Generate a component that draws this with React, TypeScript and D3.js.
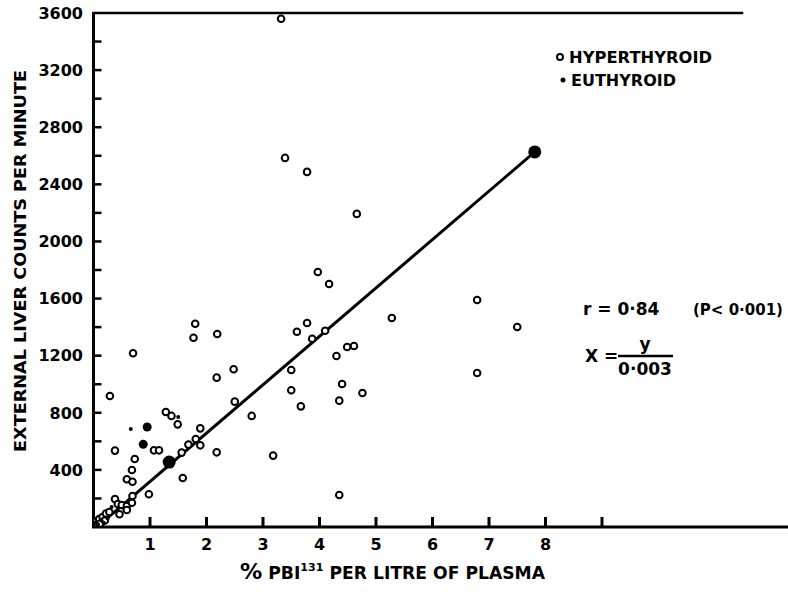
import React, { useEffect } from 'react';
import * as d3 from 'd3';

// hyperthyroid cases (open circles): [% PBI131 per litre, counts per minute]
const hyperthyroid: [number, number][] = [
  [3.32, 3560], [3.39, 2585], [3.78, 2487], [4.66, 2193], [3.97, 1786], [4.17, 1702],
  [6.79, 1590], [5.28, 1464], [7.5, 1401], [6.79, 1079],
  [3.78, 1429], [3.6, 1368], [3.87, 1319], [4.1, 1375], [4.49, 1261], [4.61, 1268],
  [4.3, 1198], [3.5, 1100], [3.5, 958], [4.4, 1002], [4.76, 939], [4.35, 885], [3.67, 845], [4.35, 224],
  [1.8, 1424], [1.77, 1326], [2.19, 1352], [2.48, 1105], [2.18, 1046], [2.5, 878], [2.8, 778],
  [1.28, 805], [1.38, 778], [1.49, 719], [1.89, 691], [1.81, 616], [1.68, 577], [1.89, 572],
  [2.18, 523], [3.18, 500], [1.07, 537], [1.16, 537], [1.56, 521], [1.58, 343],
  [0.29, 918], [0.7, 1217], [0.38, 535], [0.73, 476], [0.68, 399], [0.59, 334], [0.69, 317], [0.98, 229],
  [0.38, 196], [0.43, 161], [0.5, 154], [0.59, 147], [0.68, 170], [0.69, 217], [0.46, 89], [0.59, 119],
  [0.05, 40], [0.1, 55], [0.16, 70], [0.22, 95], [0.28, 105], [0.12, 25], [0.2, 45],
];

// heavy filled points
const filledPoints: [number, number][] = [[0.95, 700], [0.88, 579]];

// euthyroid cases (small dots)
const euthyroid: [number, number][] = [
  [0.66, 686], [1.5, 770], [0.03, 30], [0.08, 20], [0.14, 48], [0.18, 30], [0.25, 60], [0.32, 140],
];

// regression line end points
const regression: [number, number][] = [[0.15, 30], [7.81, 2627]];
const regressionDots: [number, number][] = [[1.34, 455], [7.81, 2627]];

const yLabels = [400, 800, 1200, 1600, 2000, 2400, 2800, 3200, 3600];
const yTicks = d3.range(200, 3600, 200);
const xTicks = [1, 2, 3, 4, 5, 6, 7, 8, 9];
const xLabels = [1, 2, 3, 4, 5, 6, 7, 8];

const FONT = '"DejaVu Sans", sans-serif';

export default function App() {
  useEffect(() => {
    document.body.style.margin = '0';
  }, []);

  const x = d3.scaleLinear().domain([0, 9]).range([93.5, 602]);
  const y = d3.scaleLinear().domain([0, 3600]).range([527, 13]);
  const line = d3.line<[number, number]>().x((d) => x(d[0])).y((d) => y(d[1]));

  return (
    <svg width={788} height={592} style={{ display: 'block', background: '#fff' }} fontFamily={FONT}>
      {/* frame */}
      <line x1={x(0)} x2={x(0)} y1={y(3600)} y2={y(0)} stroke="#000" strokeWidth={3} />
      <line x1={x(0) - 1.5} x2={x(12.4)} y1={y(0)} y2={y(0)} stroke="#000" strokeWidth={3} />
      <line x1={x(0) - 1.5} x2={x(11.5)} y1={y(3600)} y2={y(3600)} stroke="#000" strokeWidth={2.5} />

      {yTicks.map((t) => (
        <line key={t} x1={x(0)} x2={x(0) + 8} y1={y(t)} y2={y(t)} stroke="#000" strokeWidth={2.5} />
      ))}
      {yLabels.map((t) => (
        <text key={t} x={83} y={y(t)} dy="0.36em" textAnchor="end" fontSize={16} fontWeight="bold">
          {t}
        </text>
      ))}
      {xTicks.map((t) => (
        <line key={t} x1={x(t)} x2={x(t)} y1={y(0)} y2={y(0) - 10} stroke="#000" strokeWidth={3} />
      ))}
      {xLabels.map((t) => (
        <text key={t} x={x(t)} y={550} textAnchor="middle" fontSize={16} fontWeight="bold">
          {t}
        </text>
      ))}

      <text
        transform="translate(26,261) rotate(-90)"
        textAnchor="middle"
        fontSize={16}
        fontWeight="bold"
        textLength={382}
        lengthAdjust="spacingAndGlyphs"
      >
        EXTERNAL LIVER COUNTS PER MINUTE
      </text>
      <text x={240} y={579} fontSize={17} fontWeight="bold" textLength={305} lengthAdjust="spacingAndGlyphs">
        <tspan fontSize={22}>%</tspan> PBI<tspan fontSize={11} dy={-8}>131</tspan>
        <tspan dy={8}> PER LITRE OF PLASMA</tspan>
      </text>

      {/* regression */}
      <path d={line(regression) || ''} stroke="#000" strokeWidth={3} fill="none" />
      {regressionDots.map((d, i) => (
        <circle key={i} cx={x(d[0])} cy={y(d[1])} r={6.5} fill="#000" />
      ))}

      {hyperthyroid.map((d, i) => (
        <circle key={i} cx={x(d[0])} cy={y(d[1])} r={3.3} fill="#fff" stroke="#000" strokeWidth={2} />
      ))}
      {filledPoints.map((d, i) => (
        <circle key={i} cx={x(d[0])} cy={y(d[1])} r={4.5} fill="#000" />
      ))}
      {euthyroid.map((d, i) => (
        <circle key={i} cx={x(d[0])} cy={y(d[1])} r={2} fill="#000" />
      ))}

      {/* legend */}
      <circle cx={560} cy={57} r={3} fill="#fff" stroke="#000" strokeWidth={2} />
      <text x={569} y={63} fontSize={15} fontWeight="bold" textLength={143} lengthAdjust="spacingAndGlyphs">
        HYPERTHYROID
      </text>
      <circle cx={563} cy={80} r={2.5} fill="#000" />
      <text x={571} y={86} fontSize={15} fontWeight="bold" textLength={105} lengthAdjust="spacingAndGlyphs">
        EUTHYROID
      </text>

      {/* statistics */}
      <text x={583} y={315} fontSize={17} fontWeight="bold">
        r = 0·84
      </text>
      <text x={693} y={315} fontSize={15} fontWeight="bold">
        (P&lt; 0·001)
      </text>
      <text x={585} y={362} fontSize={17} fontWeight="bold">X =</text>
      <text x={645} y={350} fontSize={17} fontWeight="bold" textAnchor="middle">y</text>
      <line x1={618} x2={673} y1={356} y2={356} stroke="#000" strokeWidth={2.5} />
      <text x={645} y={375} fontSize={17} fontWeight="bold" textAnchor="middle">0·003</text>
    </svg>
  );
}
